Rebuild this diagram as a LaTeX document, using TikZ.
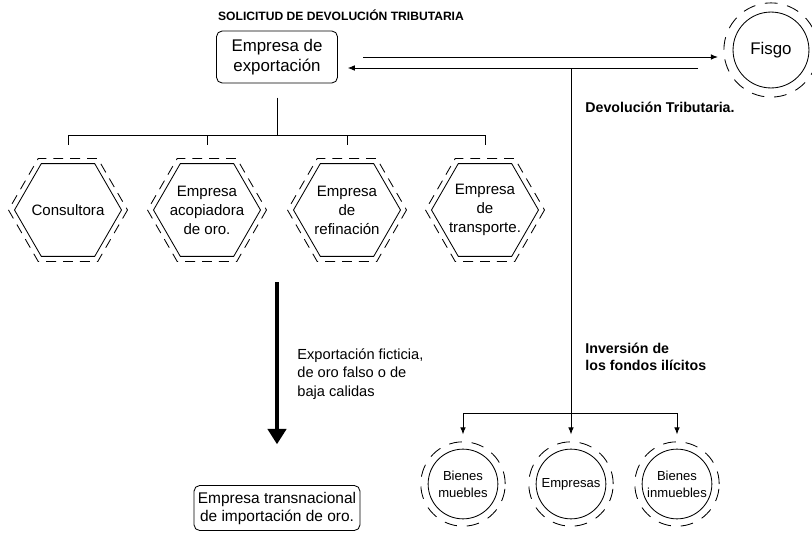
\documentclass[tikz,border=0pt]{standalone}
\usepackage{fontspec}
\setmainfont{Liberation Sans}
\usetikzlibrary{arrows.meta,calc}

\begin{document}
\begin{tikzpicture}
  [x=0.025cm,y=-0.025cm,line width=0.6pt,
   box/.style={draw,rounded corners=4pt,align=center,inner sep=0pt},
   hextext/.style={inner sep=0pt,align=center,font=\fontsize{10.7}{13.5}\selectfont},
   hexdash/.style={dash pattern=on 7pt off 5pt},
   circ/.style={draw,circle,inner sep=0pt,align=center},
   circdash/.style={draw,circle,inner sep=0pt,dash pattern=on 9pt off 7pt},
   lab/.style={inner sep=0pt,align=left,font=\bfseries\fontsize{10.1}{12}\selectfont},
   tip/.style={-{Latex[length=5pt,width=4pt]}},
   bigarrow/.style={line width=3.5pt,-{Triangle[length=11pt,width=13pt]}}]
    \useasboundingbox (0,0) rectangle (812,533);

    \node (title) [inner sep=0pt,font=\bfseries\fontsize{8.6}{10}\selectfont] at (341,15)
      {SOLICITUD DE DEVOLUCIÓN TRIBUTARIA};
    \node (exp) [box,minimum width=86pt,minimum height=37pt,font=\fontsize{12}{14.2}\selectfont]
      at (277,57) {Empresa de\\exportación};
    \node (fisgo)   [circ,minimum size=54pt,font=\fontsize{12}{14}\selectfont] at (771,50) {Fisgo};
    \node (fisgo-d) [circdash,minimum size=67pt] at (fisgo) {};

    % hexagons under the exporting company
    \foreach \n/\x/\t in {cons/68/Consultora,
                          acop/207/{Empresa\\acopiadora\\de oro.},
                          refi/347/{Empresa\\de\\refinación},
                          tran/485/{Empresa\\de\\transporte.}}
    {
      \node (\n) [hextext] at (\x,210) {\t};
      \draw ($(\n)+(0:53.5)$) \foreach \a in {60,120,...,300} { -- ($(\n)+(\a:53.5)$) } -- cycle;
      \draw[hexdash] ($(\n)+(0:59.5)$) \foreach \a in {60,120,...,300} { -- ($(\n)+(\a:59.5)$) } -- cycle;
    }

    \coordinate (rail) at (277,135);
    \draw[shorten <=10pt] (exp) -- (rail);
    \draw (rail -| cons) -- (rail -| tran);
    \foreach \n in {cons,acop,refi,tran}
      \draw (rail -| \n) -- ($(rail -| \n)+(0,10)$);

    % request and refund
    \draw[tip,shorten <=18pt,shorten >=4pt] (exp.east) -- (exp.east -| fisgo-d.west);
    \draw[tip,shorten <=18pt,shorten >=7pt]
      ($(exp.east -| fisgo-d.west)+(0,11)$) -- ($(exp.east)+(0,11)$);
    \node (devol) [lab,anchor=west] at (585,107) {Devolución Tributaria.};

    % fictitious export
    \node (trans) [box,minimum width=118pt,minimum height=32pt,font=\fontsize{11}{12.8}\selectfont]
      at (277,508) {Empresa transnacional\\de importación de oro.};
    \coordinate (fict) at (277,282);
    \draw[bigarrow,shorten >=29pt] (fict) -- (trans);
    \node (expo) [inner sep=0pt,anchor=west,align=left,font=\fontsize{10.4}{13.1}\selectfont]
      at (297,374) {Exportación ficticia,\\de oro falso o de\\baja calidas};

    % investment of the funds
    \node (mueb) [circ,minimum size=49.6pt,font=\fontsize{9.3}{12}\selectfont] at (463,484) {Bienes\\muebles};
    \node (empr) [circ,minimum size=49.6pt,font=\fontsize{9.3}{12}\selectfont] at (571,484) {Empresas};
    \node (inmu) [circ,minimum size=49.6pt,font=\fontsize{9.3}{12}\selectfont] at (677,484) {Bienes\\inmuebles};
    \foreach \n in {mueb,empr,inmu}
      \node (\n-d) [circdash,minimum size=60pt] at (\n) {};

    \coordinate (branch) at (571,68);
    \coordinate (split)  at (571,413);
    \draw (branch) -- (split);
    \draw (split -| mueb) -- (split -| inmu);
    \foreach \n in {mueb,empr,inmu}
      \draw[tip,shorten >=5pt] (split -| \n) -- (\n-d);
    \node (inver) [lab,anchor=west] at (585,357) {Inversión de\\los fondos ilícitos};
  \end{tikzpicture}
\end{document}
